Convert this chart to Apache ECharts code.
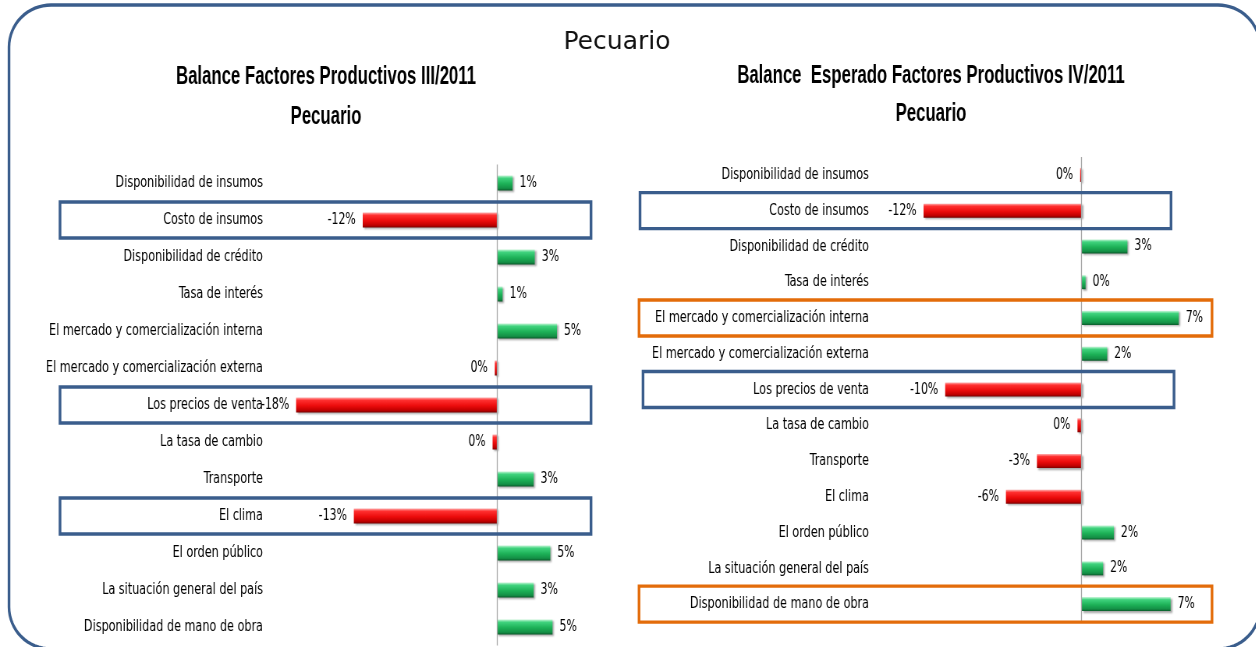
<!DOCTYPE html>
<html>
<head>
<meta charset="utf-8">
<script src="https://cdn.jsdelivr.net/npm/echarts@6/dist/echarts.min.js"></script>
<style>
html,body{margin:0;padding:0;background:#fff;overflow:hidden;}
#wrap{width:1256px;height:647px;overflow:hidden;position:relative;}
#chart{height:647px;transform-origin:0 0;position:absolute;left:0;top:0;}
</style>
</head>
<body>
<div id="wrap"><div id="chart"></div></div>
<script>
// ---- data ----
const mainTitle = 'Pecuario';
const leftTitle = 'Balance Factores Productivos III/2011';
const rightTitle = 'Balance  Esperado Factores Productivos IV/2011';
const subTitle = 'Pecuario';
const categories = [
  'Disponibilidad de insumos',
  'Costo de insumos',
  'Disponibilidad de crédito',
  'Tasa de interés',
  'El mercado y comercialización interna',
  'El mercado y comercialización externa',
  'Los precios de venta',
  'La tasa de cambio',
  'Transporte',
  'El clima',
  'El orden público',
  'La situación general del país',
  'Disponibilidad de mano de obra'
];
const leftValues  = [1.4, -12.1, 3.4, 0.5, 5.4, -0.2, -18.1, -0.4, 3.3, -12.9, 4.8, 3.3, 5.0];
const rightValues = [-0.1, -11.7, 3.4, 0.3, 7.2, 1.9, -10.1, -0.3, -3.3, -5.6, 2.4, 1.6, 6.6];
const leftHighlights  = ['Costo de insumos', 'Los precios de venta', 'El clima'];
const rightHighlightsBlue   = ['Costo de insumos', 'Los precios de venta'];
const rightHighlightsOrange = ['El mercado y comercialización interna', 'Disponibilidad de mano de obra'];

// ---- layout: the reference is horizontally condensed; draw wide and squeeze ----
const S = 0.78;
const X = v => v / S;
const el = document.getElementById('chart');
el.style.width = (1256 / S) + 'px';
el.style.transform = 'scaleX(' + S + ')';

const COND = '"DejaVu Sans Condensed", "DejaVu Sans", sans-serif';
const BLUE = '#3a5d8c';
const ORANGE = '#e36c0a';
const greenGrad = new echarts.graphic.LinearGradient(0, 0, 0, 1, [
  {offset: 0, color: '#c6f7d8'},
  {offset: 0.18, color: '#40d37e'},
  {offset: 0.55, color: '#1db157'},
  {offset: 0.85, color: '#149046'},
  {offset: 1, color: '#0a5a2a'}
]);
const redGrad = new echarts.graphic.LinearGradient(0, 0, 0, 1, [
  {offset: 0, color: '#ffb0b0'},
  {offset: 0.18, color: '#ff3030'},
  {offset: 0.55, color: '#ec0c0c'},
  {offset: 0.85, color: '#c00000'},
  {offset: 1, color: '#7a0000'}
]);
function pct(v) {
  const r = Math.round(Math.abs(v));
  return (r === 0 ? '0' : (v < 0 ? '-' : '') + r) + '%';
}
function barData(values) {
  return values.map(v => ({
    value: v,
    itemStyle: {color: v < 0 ? redGrad : greenGrad},
    label: {position: v < 0 ? 'left' : 'right'}
  }));
}
function barSeries(values, idx, bw) {
  return {
    type: 'bar',
    xAxisIndex: idx, yAxisIndex: idx,
    barWidth: bw,
    data: barData(values),
    itemStyle: {shadowColor: 'rgba(0,0,0,0.35)', shadowBlur: 2, shadowOffsetX: 2, shadowOffsetY: 1.5},
    label: {show: true, distance: X(7), fontFamily: COND, fontSize: 15.5, color: '#000',
            formatter: p => pct(p.value)},
    markLine: {
      silent: true, symbol: 'none', animation: false,
      label: {show: false},
      lineStyle: {color: '#a6a6a6', type: 'solid', width: 1.3},
      data: [{xAxis: 0}]
    },
    animation: false
  };
}

const grids = [
  {left: X(275), width: X(333), top: 164.5, height: 481, outerBoundsMode: 'none', containLabel: false},
  {left: X(879), width: X(337.5), top: 157, height: 465, outerBoundsMode: 'none', containLabel: false}
];

const chart = echarts.init(el);
const option = {
  backgroundColor: '#fff',
  animation: false,
  grid: grids,
  xAxis: [
    {type: 'value', gridIndex: 0, min: -20, max: 10, show: false},
    {type: 'value', gridIndex: 1, min: -15, max: 10, show: false}
  ],
  yAxis: [0, 1].map(i => ({
    type: 'category', gridIndex: i, data: categories, inverse: true,
    axisLine: {show: false, onZero: false}, axisTick: {show: false}, splitLine: {show: false},
    axisLabel: {fontFamily: COND, fontSize: 16, color: '#000', margin: X(i === 0 ? 12 : 10)}
  })),
  series: [barSeries(leftValues, 0, 15), barSeries(rightValues, 1, 14)]
};
chart.setOption(option);

// condensed bold titles
const cv = document.createElement('canvas').getContext('2d');
const TFONT = 'bold 26px "Liberation Sans", Arial, sans-serif';
cv.font = TFONT;
const tScale = X(300) / cv.measureText(leftTitle).width;

function boxRect(cat, gi, x0, x1, color) {
  const y = chart.convertToPixel({gridIndex: gi}, [0, cat])[1];
  return {
    type: 'rect', silent: true, z: 10,
    shape: {x: X(x0), y: y - 18, width: X(x1 - x0), height: 36},
    style: {fill: 'none', stroke: color, lineWidth: 3.4}
  };
}
function titleText(text, x, y) {
  return {
    type: 'text', x: X(x), y: y, scaleX: tScale, silent: true,
    style: {text: text, font: TFONT, fill: '#000', align: 'center', verticalAlign: 'middle'}
  };
}
// rounded frame (elliptic corners so they look round after the squeeze)
function framePoints(x0, y0, x1, y1, rx, ry) {
  const pts = [];
  const corners = [
    [x1 - rx, y0 + ry, -Math.PI / 2], // top-right
    [x1 - rx, y1 - ry, 0],            // bottom-right
    [x0 + rx, y1 - ry, Math.PI / 2],  // bottom-left
    [x0 + rx, y0 + ry, Math.PI]       // top-left
  ];
  corners.forEach(c => {
    for (let k = 0; k <= 16; k++) {
      const a = c[2] + (Math.PI / 2) * k / 16;
      pts.push([c[0] + rx * Math.cos(a), c[1] + ry * Math.sin(a)]);
    }
  });
  return pts;
}

const graphics = [
  {type: 'polygon', silent: true, z: 0,
   shape: {points: framePoints(X(9), 5, X(1260), 649, X(42), 42)},
   style: {fill: 'none', stroke: BLUE, lineWidth: 3.4}},
  {type: 'text', x: X(617), y: 42, scaleX: 1 / S, silent: true,
   style: {text: mainTitle, font: '25px "DejaVu Sans", sans-serif', fill: '#111', align: 'center', verticalAlign: 'middle'}},
  titleText(leftTitle, 326, 77),
  titleText(subTitle, 326, 117),
  titleText(rightTitle, 931, 76),
  titleText(subTitle, 931, 114)
];
leftHighlights.forEach(c => graphics.push(boxRect(c, 0, 60, 591, BLUE)));
rightHighlightsBlue.forEach((c, i) => graphics.push(boxRect(c, 1, i === 0 ? 640 : 643, i === 0 ? 1171 : 1174, BLUE)));
rightHighlightsOrange.forEach(c => graphics.push(boxRect(c, 1, 639, 1212, ORANGE)));
chart.setOption({graphic: graphics});
</script>
</body>
</html>
